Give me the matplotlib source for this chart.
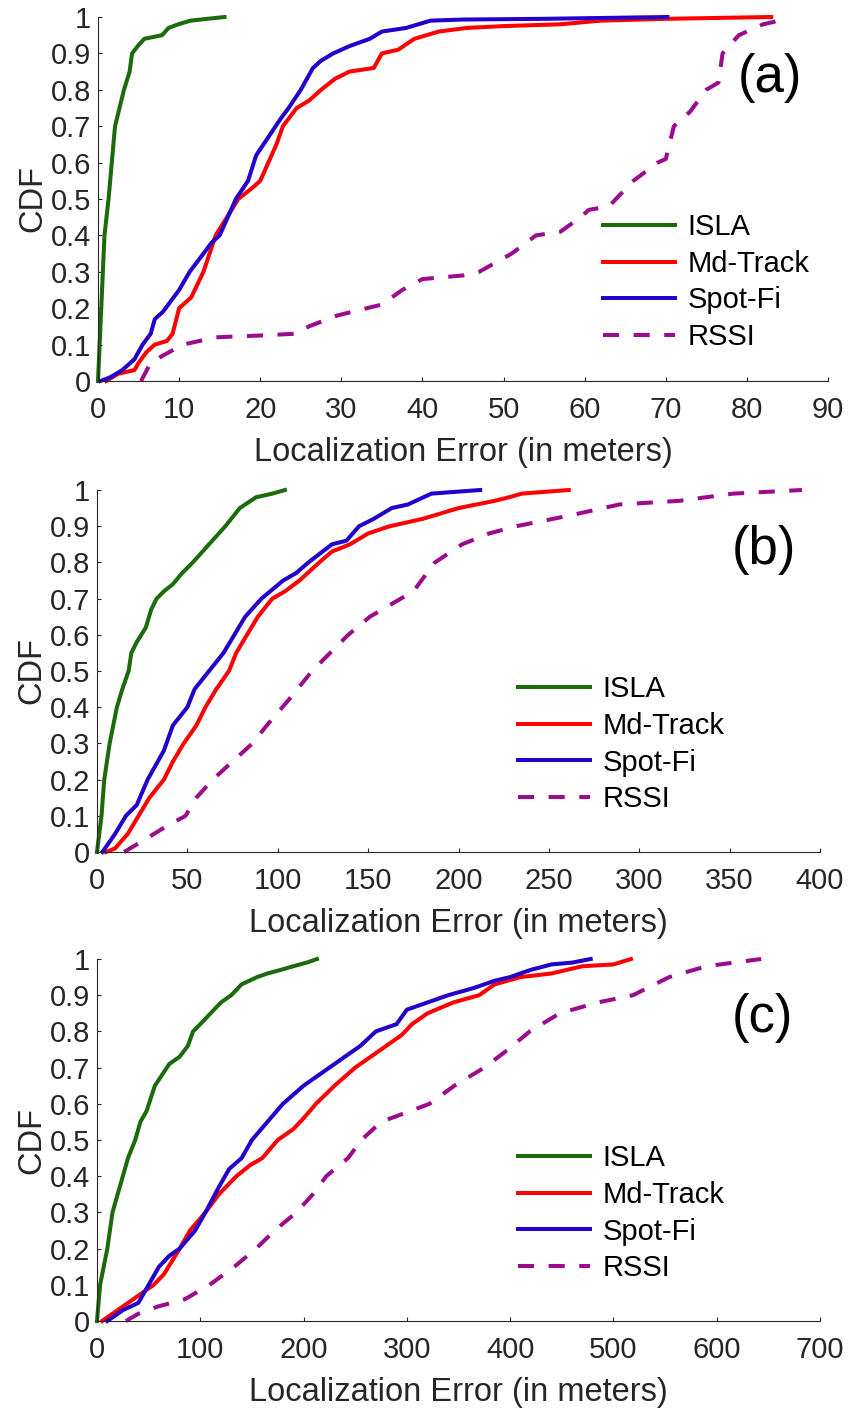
import matplotlib
matplotlib.use("Agg")
import matplotlib.pyplot as plt

plt.rcParams['font.family'] = ['Liberation Sans', 'DejaVu Sans']

# ---------------- data: CDF curves (error in meters, cumulative fraction) ----------------
series_names = ["ISLA", "Md-Track", "Spot-Fi", "RSSI"]

# Panel (a)
a_isla_err = [0, 0.2, 0.8, 1.3, 1.7, 2.1, 3.2, 3.9, 4.2, 4.9, 5.7, 7.9, 8.7, 9.9, 11.4, 15.6]
a_isla_cdf = [0, 0.10, 0.40, 0.50, 0.60, 0.70, 0.80, 0.85, 0.90, 0.92, 0.94, 0.95, 0.97, 0.98, 0.99, 1.0]
a_md_err = [1.0, 2.5, 4.5, 5.0, 6.0, 7.0, 8.5, 9.2, 10.0, 11.5, 13.0, 14.5, 17.3, 19.0, 20.0, 21.0,
            22.0, 22.8, 24.5, 26.0, 27.5, 29.2, 31.0, 34.0, 35.0, 37.0, 39.0, 42.0, 45.5, 50.0, 57.0,
            62.0, 70.0, 83.0]
a_md_cdf = [0, 0.02, 0.03, 0.05, 0.08, 0.10, 0.11, 0.13, 0.20, 0.23, 0.30, 0.40, 0.50, 0.53, 0.55, 0.60,
            0.65, 0.70, 0.75, 0.77, 0.80, 0.83, 0.85, 0.86, 0.90, 0.91, 0.94, 0.96, 0.97, 0.975, 0.98,
            0.99, 0.995, 1.0]
a_spot_err = [0.3, 1.5, 3.0, 4.5, 5.5, 6.5, 7.0, 8.0, 10.0, 11.3, 13.0, 14.0, 15.0, 16.0, 17.0, 18.5,
              19.5, 21.0, 22.5, 23.5, 25.0, 26.5, 27.5, 29.0, 31.0, 33.5, 35.0, 38.0, 41.0, 45.0, 55.0,
              70.2]
a_spot_cdf = [0, 0.01, 0.03, 0.06, 0.10, 0.13, 0.17, 0.19, 0.25, 0.30, 0.35, 0.38, 0.40, 0.45, 0.50, 0.55,
              0.62, 0.67, 0.72, 0.75, 0.80, 0.86, 0.88, 0.90, 0.92, 0.94, 0.96, 0.97, 0.99, 0.993, 0.995,
              1.0]
a_rssi_err = [5.3, 6.5, 8.0, 10.5, 14.5, 20.0, 24.5, 26.0, 29.5, 35.0, 37.5, 40.0, 45.0, 47.0, 51.0, 54.0,
              57.0, 59.5, 60.5, 63.0, 66.0, 69.0, 70.0, 71.0, 73.0, 75.0, 76.5, 77.0, 79.0, 82.0, 84.0, 85.0]
a_rssi_cdf = [0, 0.05, 0.07, 0.10, 0.12, 0.125, 0.13, 0.15, 0.18, 0.21, 0.25, 0.28, 0.29, 0.30, 0.35, 0.40,
              0.41, 0.45, 0.47, 0.48, 0.55, 0.60, 0.61, 0.70, 0.74, 0.80, 0.82, 0.90, 0.95, 0.98, 0.99, 1.0]

# Panel (b)
b_isla_err = [0, 2.5, 4, 7, 11, 14, 17.5, 19, 22, 27, 30, 33, 37, 42, 47, 53, 62, 71, 79, 88, 97, 104]
b_isla_cdf = [0, 0.10, 0.20, 0.30, 0.40, 0.45, 0.50, 0.55, 0.58, 0.62, 0.67, 0.70, 0.72, 0.74, 0.77, 0.80,
              0.85, 0.90, 0.95, 0.98, 0.99, 1.0]
b_md_err = [5, 10, 17, 23, 29, 37, 42, 48, 55, 60, 66, 73, 77, 83, 89, 97, 104, 112, 123, 130, 140, 150,
            162, 180, 200, 220, 228, 235, 261]
b_md_cdf = [0, 0.01, 0.05, 0.10, 0.15, 0.20, 0.25, 0.30, 0.35, 0.40, 0.45, 0.50, 0.55, 0.60, 0.65, 0.70,
            0.72, 0.75, 0.80, 0.83, 0.85, 0.88, 0.90, 0.92, 0.95, 0.97, 0.98, 0.99, 1.0]
b_spot_err = [3, 10, 16, 22, 28, 37, 42, 50, 54, 62, 70, 76, 82, 91, 103, 110, 117, 130, 138, 145, 153,
              163, 172, 185, 212]
b_spot_cdf = [0, 0.05, 0.10, 0.13, 0.20, 0.28, 0.35, 0.40, 0.45, 0.50, 0.55, 0.60, 0.65, 0.70, 0.75, 0.77,
              0.80, 0.85, 0.86, 0.90, 0.92, 0.95, 0.96, 0.99, 1.0]
b_rssi_err = [15, 25, 38, 49, 55, 64, 86, 94, 106, 119, 139, 151, 175, 187, 202, 217, 232, 262, 289, 322,
              352, 390]
b_rssi_cdf = [0, 0.03, 0.07, 0.10, 0.15, 0.20, 0.30, 0.35, 0.42, 0.50, 0.60, 0.65, 0.72, 0.80, 0.85, 0.88,
              0.90, 0.93, 0.96, 0.97, 0.99, 1.0]

# Panel (c)
c_isla_err = [0, 3, 10, 15, 20, 25, 30, 37, 42, 48, 56, 63, 70, 80, 88, 93, 100, 110, 120, 130, 140, 155,
              165, 178, 190, 203, 213]
c_isla_cdf = [0, 0.10, 0.20, 0.30, 0.35, 0.40, 0.45, 0.50, 0.55, 0.58, 0.65, 0.68, 0.71, 0.73, 0.76, 0.80,
              0.82, 0.85, 0.88, 0.90, 0.93, 0.95, 0.96, 0.97, 0.98, 0.99, 1.0]
c_md_err = [5, 15, 25, 35, 45, 55, 65, 80, 90, 105, 118, 135, 148, 160, 175, 190, 200, 212, 230, 250, 265,
            280, 295, 305, 320, 345, 370, 385, 410, 440, 470, 500, 517]
c_md_cdf = [0, 0.02, 0.04, 0.06, 0.08, 0.10, 0.13, 0.20, 0.25, 0.30, 0.35, 0.40, 0.43, 0.45, 0.50, 0.53,
            0.56, 0.60, 0.65, 0.70, 0.73, 0.76, 0.79, 0.82, 0.85, 0.88, 0.90, 0.93, 0.95, 0.96, 0.98, 0.985,
            1.0]
c_spot_err = [10, 25, 40, 50, 60, 70, 80, 95, 105, 118, 128, 140, 150, 165, 180, 200, 215, 240, 255, 270,
              290, 300, 320, 340, 365, 385, 400, 420, 440, 460, 478]
c_spot_cdf = [0, 0.03, 0.05, 0.10, 0.15, 0.18, 0.20, 0.25, 0.30, 0.37, 0.42, 0.45, 0.50, 0.55, 0.60, 0.65,
              0.68, 0.73, 0.76, 0.80, 0.82, 0.86, 0.88, 0.90, 0.92, 0.94, 0.95, 0.97, 0.985, 0.99, 1.0]
c_rssi_err = [28, 40, 59, 85, 109, 133, 154, 172, 193, 209, 222, 243, 256, 275, 322, 346, 375, 398, 419,
              448, 485, 519, 554, 590, 643]
c_rssi_cdf = [0, 0.02, 0.04, 0.06, 0.10, 0.15, 0.20, 0.25, 0.30, 0.35, 0.40, 0.45, 0.50, 0.55, 0.60, 0.65,
              0.70, 0.75, 0.80, 0.85, 0.88, 0.90, 0.95, 0.98, 1.0]

panel_tags = ["(a)", "(b)", "(c)"]
x_max = [90, 400, 700]
x_step = [10, 50, 100]
y_ticks = [0, 0.1, 0.2, 0.3, 0.4, 0.5, 0.6, 0.7, 0.8, 0.9, 1.0]
y_tick_labels = ["0", "0.1", "0.2", "0.3", "0.4", "0.5", "0.6", "0.7", "0.8", "0.9", "1"]

panels = [
    [(a_isla_err, a_isla_cdf), (a_md_err, a_md_cdf), (a_spot_err, a_spot_cdf), (a_rssi_err, a_rssi_cdf)],
    [(b_isla_err, b_isla_cdf), (b_md_err, b_md_cdf), (b_spot_err, b_spot_cdf), (b_rssi_err, b_rssi_cdf)],
    [(c_isla_err, c_isla_cdf), (c_md_err, c_md_cdf), (c_spot_err, c_spot_cdf), (c_rssi_err, c_rssi_cdf)],
]

# ---------------- styling ----------------
colors = ["#1b6b0c", "#ff0000", "#2400cc", "#9c0a8e"]
LW = 2.9
DASH = (4.0, 3.6)
AX_COLOR = "#262626"

W, H = 852, 1408
fig = plt.figure(figsize=(W / 100, H / 100), dpi=100)

# axes boxes in pixels: left, right, top, bottom
boxes = [(98, 828, 17, 381), (97, 820, 490, 852), (97, 820, 959, 1321)]
legend_anchor = [(603, 213), (518, 675), (518, 1144)]
tag_pos = [(738, 78), (732, 550), (732, 1018)]


def px_rect(l, r, t, b):
    return [l / W, 1 - b / H, (r - l) / W, (b - t) / H]


for i, (box, curves) in enumerate(zip(boxes, panels)):
    ax = fig.add_axes(px_rect(*box))
    handles = []
    for k, (err, cdf) in enumerate(curves):
        ls = "--" if series_names[k] == "RSSI" else "-"
        line, = ax.plot(err, cdf, color=colors[k], lw=LW, ls=ls, clip_on=False,
                        solid_joinstyle="round", dash_capstyle="butt")
        if ls == "--":
            line.set_dashes(DASH)
        handles.append(line)

    ax.set_xlim(0, x_max[i])
    ax.set_ylim(0, 1)
    ax.set_xticks(list(range(0, x_max[i] + 1, x_step[i])))
    ax.set_yticks(y_ticks)
    ax.set_yticklabels(y_tick_labels)
    for side in ("top", "right"):
        ax.spines[side].set_visible(False)
    for side in ("left", "bottom"):
        ax.spines[side].set_color(AX_COLOR)
        ax.spines[side].set_linewidth(0.8)
    ax.tick_params(direction="in", length=3, width=0.8, color=AX_COLOR,
                   labelcolor=AX_COLOR, labelsize=21)
    ax.tick_params(axis="x", pad=11)
    ax.tick_params(axis="y", pad=5)
    ax.set_xlabel("Localization Error (in meters)", fontsize=23.5, color=AX_COLOR, labelpad=9)
    ax.set_ylabel("CDF", fontsize=23.5, color=AX_COLOR, labelpad=2)

    lx, ly = legend_anchor[i]
    ax.legend(handles, series_names, loc="upper left",
              bbox_to_anchor=(lx / W, 1 - ly / H), bbox_transform=fig.transFigure,
              frameon=False, fontsize=21, handlelength=2.47, handletextpad=0.42,
              labelspacing=0.3, borderpad=0, borderaxespad=0)

    tx, ty = tag_pos[i]
    fig.text(tx / W, 1 - ty / H, panel_tags[i], fontsize=38, ha="left", va="center", color="black")

fig.savefig("out.png", dpi=100)
